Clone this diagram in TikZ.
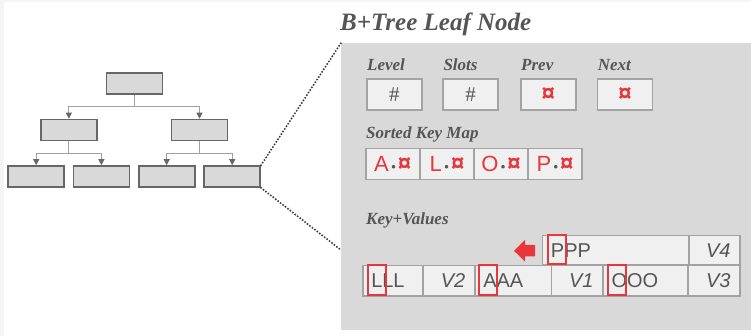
\documentclass[tikz,border=0pt]{standalone}
\usepackage{fontspec}
\setmainfont{Liberation Serif}
\setsansfont{Liberation Sans}
\usetikzlibrary{arrows.meta,positioning}

\definecolor{panelgray}{HTML}{D9D9D9}
\definecolor{cellgray}{HTML}{F0F0F0}
\definecolor{cellline}{HTML}{A3A3A3}
\definecolor{treeedge}{HTML}{676767}
\definecolor{treelink}{HTML}{A0A0A0}
\definecolor{textgray}{HTML}{555555}
\definecolor{keyred}{HTML}{E8363D}

\newcommand{\cur}{{\fontsize{24}{24}\selectfont\sffamily\bfseries\color{keyred}¤}}
\newcommand{\kmap}[1]{{\sffamily\fontsize{22}{22}\selectfont\color{keyred}#1}%
  \hspace{2.5pt}{\fontsize{13}{13}\selectfont\sffamily\color{textgray}•}\hspace{2pt}\cur}

\begin{document}
\begin{tikzpicture}
		[
			x=1pt, y=-1pt,
			tbox/.style={draw=treeedge, line width=1.6pt, fill=panelgray, minimum width=56pt, minimum height=21pt, inner sep=0pt},
			tlink/.style={draw=treelink, line width=1pt, -{Triangle[length=6pt, width=6pt, color=treeedge]}},
			zoomline/.style={draw=textgray!70!black, line width=2.2pt, line cap=round, dash pattern=on 0pt off 3.1pt},
			label/.style={anchor=base west, inner sep=0pt, text=textgray, font=\bfseries\itshape\fontsize{17}{20}\selectfont},
			hbox/.style={draw=cellline, line width=1.5pt, fill=cellgray, minimum width=55pt, minimum height=31pt, inner sep=0pt},
			kcell/.style={draw=cellline, line width=1.5pt, fill=cellgray, minimum width=54pt, minimum height=31pt, inner sep=0pt},
			kvcell/.style={draw=cellline, line width=1.5pt, fill=cellgray, inner ysep=0pt, text=textgray, font=\sffamily\fontsize{20}{20}\selectfont},
			hl/.style={draw=keyred, line width=1.8pt, minimum width=18pt, inner sep=0pt},
		]
		\useasboundingbox (0,0) rectangle (751,336);
		\fill[black!4] (0,0) rectangle (4,336);
		\fill[black!4] (0,0) rectangle (751,2);

		% Tree
		\node[tbox] (root) at (134.3,83.3) {};
		\node[tbox] (m1) at (68.9,130) {};
		\node[tbox] (m2) at (199.5,130) {};
		\foreach \name/\x in {l1/36.2, l2/101.4, l3/166.7, l4/232.2}
			\node[tbox] (\name) at (\x,176.5) {};

		\foreach \p/\c in {root/m1, root/m2}
			\draw[tlink] (\p.south) -- ++(0,12) -| (\c.north);
		\foreach \p/\c in {m1/l1, m1/l2, m2/l3, m2/l4}
			\draw[tlink] (\p.south) -- ++(0,12) -| (\c.north);

		% Leaf node panel
		\node[fill=panelgray, anchor=north west, minimum width=410pt, minimum height=287pt, inner sep=0pt] (panel) at (341,43) {};
		\coordinate (zb) at (341,250);
		\node[anchor=base west, inner sep=0pt, text=textgray, font=\bfseries\itshape\fontsize{25}{30}\selectfont] (title) at (340,31) {B+Tree Leaf Node};

		\draw[zoomline] (l4.north east) -- (panel.north west);
		\draw[zoomline] (l4.south east) -- (zb);

		% Header
		\foreach \name/\x/\txt/\val in
		{
			level/366/Level/{\fontsize{21}{21}\selectfont\#},
			slots/442.3/Slots/{\fontsize{21}{21}\selectfont\#},
			prev/520/Prev/\cur,
			next/596.7/Next/\cur
		}
		{
			\node[label] (\name-lbl) at (\x+1,71) {\txt};
			\node[hbox, anchor=north west, text=textgray] (\name) at (\x,78.3) {\val};
		}

		% Sorted key map
		\node[label] (keymap-lbl) at (366,139) {Sorted Key Map};
		\foreach \name/\x/\k in {kA/365/A, kL/419.3/L, kO/473.3/O, kP/527.3/P}
			\node[kcell, anchor=north west] (\name) at (\x,148) {\kmap{\k}};

		% Key+Values
		\node[label] (kv-lbl) at (366,225) {Key+Values};
		\foreach \name/\x/\w/\y/\h/\txt in
		{
			ppp/541.7/146.6/235/29.3/PPP,
			lll/362/60/265/30/LLL,
			aaa/474/76.7/265/30/AAA,
			ooo/602.3/85/265/30/OOO
		}
			\node[kvcell, anchor=north west, minimum width=\w pt, minimum height=\h pt, text width=\w pt-17pt, inner xsep=8.5pt, align=left] (\name) at (\x,\y) {\txt};
		\foreach \name/\x/\w/\y/\h/\txt in
		{
			v4/688.3/51/235/29.3/V4,
			v2/422/52/265/30/V2,
			v1/550.7/51.6/265/30/V1,
			v3/687.3/52/265/30/V3
		}
			\node[kvcell, anchor=north west, minimum width=\w pt, minimum height=\h pt, text width=\w pt-19pt, inner xsep=9.5pt, align=right, font=\sffamily\itshape\fontsize{20}{20}\selectfont] (\name) at (\x,\y) {\txt};

		% first letters
		\node[hl, minimum height=29.3pt] (hlP) at (556.9,249.6) {};
		\node[hl, minimum height=30pt] (hlL) at (377.2,280) {};
		\node[hl, minimum height=30pt] (hlA) at (488.3,280) {};
		\node[hl, minimum height=30pt] (hlO) at (616.7,280) {};

		% insert arrow
		\fill[keyred] (535,245) -- (525,245) -- (525,240) -- (514,250.8) -- (525,261.6) -- (525,256.5) -- (535,256.5) -- cycle;

		\end{tikzpicture}
\end{document}
